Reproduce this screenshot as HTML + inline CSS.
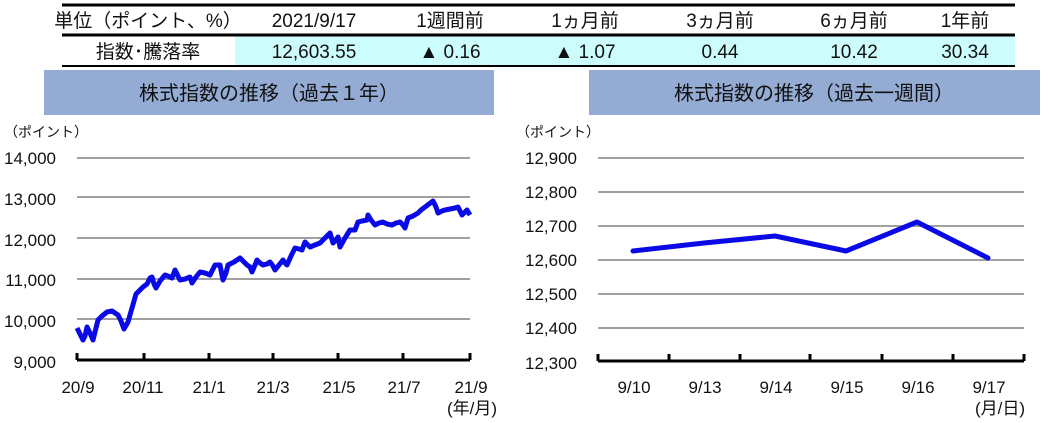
<!DOCTYPE html>
<html><head><meta charset="utf-8"><style>
body{margin:0;background:#fff;}
svg{display:block;font-family:"Liberation Sans","Noto Sans CJK JP",sans-serif;}
</style></head><body>
<svg width="1049" height="423" viewBox="0 0 1049 423" xmlns="http://www.w3.org/2000/svg">
<rect x="235" y="36" width="780" height="29" fill="#ccfcfc"/>
<line x1="62" y1="5" x2="1015" y2="5" stroke="#000" stroke-width="3"/>
<line x1="62" y1="35" x2="1015" y2="35" stroke="#000" stroke-width="3"/>
<line x1="62" y1="66" x2="1015" y2="66" stroke="#000" stroke-width="2"/>
<g font-size="19" fill="#111" text-anchor="middle">
<text x="148" y="27">単位（ポイント、%）</text>
<text x="314" y="27">2021/9/17</text>
<text x="450" y="27">1週間前</text>
<text x="585" y="27">1ヵ月前</text>
<text x="720" y="27">3ヵ月前</text>
<text x="854" y="27">6ヵ月前</text>
<text x="965" y="27">1年前</text>
<text x="148" y="58">指数･騰落率</text>
<text x="314" y="58">12,603.55</text>
<text x="450" y="58">▲ 0.16</text>
<text x="585" y="58">▲ 1.07</text>
<text x="720" y="58">0.44</text>
<text x="854" y="58">10.42</text>
<text x="965" y="58">30.34</text>
</g>
<rect x="44" y="70" width="450" height="45" fill="#94acd4"/>
<rect x="589" y="70" width="451" height="45" fill="#94acd4"/>
<g font-size="20" fill="#111" text-anchor="middle">
<text x="269" y="100">株式指数の推移（過去１年）</text>
<text x="814" y="100">株式指数の推移（過去一週間）</text>
</g>
<g font-size="14" fill="#111">
<text x="4" y="137">（ポイント）</text>
<text x="516" y="137">（ポイント）</text>
</g>
<g stroke="#a0a0a0" stroke-width="2">
<line x1="77" y1="158" x2="470" y2="158"/><line x1="77" y1="197" x2="470" y2="197"/>
<line x1="77" y1="238" x2="470" y2="238"/><line x1="77" y1="279" x2="470" y2="279"/>
<line x1="77" y1="319" x2="470" y2="319"/>
<line x1="598" y1="158" x2="1024" y2="158"/><line x1="598" y1="192" x2="1024" y2="192"/>
<line x1="598" y1="226" x2="1024" y2="226"/><line x1="598" y1="260" x2="1024" y2="260"/>
<line x1="598" y1="294" x2="1024" y2="294"/><line x1="598" y1="328" x2="1024" y2="328"/>
</g>
<g stroke="#000" stroke-width="3" fill="none">
<line x1="77" y1="360" x2="470" y2="360"/>
<path d="M77 353V360M144 353V360M209 353V360M273 353V360M338 353V360M403 353V360M470 353V360"/>
<line x1="598" y1="361" x2="1024" y2="361"/>
<path d="M598 354V361M669 354V361M740 354V361M810 354V361M882 354V361M953 354V361M1024 354V361"/>
</g>
<g font-size="17" fill="#111" text-anchor="end">
<text x="56" y="164">14,000</text><text x="56" y="205">13,000</text>
<text x="56" y="246">12,000</text><text x="56" y="286">11,000</text>
<text x="56" y="327">10,000</text><text x="56" y="368">9,000</text>
<text x="577" y="164">12,900</text><text x="577" y="198">12,800</text>
<text x="577" y="232">12,700</text><text x="577" y="266">12,600</text>
<text x="577" y="300">12,500</text><text x="577" y="334">12,400</text>
<text x="577" y="369">12,300</text>
</g>
<g font-size="17" fill="#111" text-anchor="middle">
<text x="78" y="393">20/9</text><text x="143" y="393">20/11</text><text x="209" y="393">21/1</text>
<text x="273" y="393">21/3</text><text x="339" y="393">21/5</text><text x="404" y="393">21/7</text>
<text x="471" y="393">21/9</text><text x="472" y="414">(年/月)</text>
<text x="634" y="393">9/10</text><text x="705" y="393">9/13</text><text x="776" y="393">9/14</text>
<text x="847" y="393">9/15</text><text x="918" y="393">9/16</text><text x="989" y="393">9/17</text>
<text x="1000" y="414">(月/日)</text>
</g>
<polyline fill="none" stroke="#0a0ae6" stroke-width="5" stroke-linejoin="round" points="77,328 80,334 83,340 85,336 87,327 90,333 93,340 96,328 98,320 102,316 107,312 112,311 115,313 118,315 121,321 124,329 128,322 132,308 136,294 140,290 143,287 147,284 150,278 152,277 154,284 156,288 160,281 165,275 168,276 172,278 175,270 178,276 180,280 185,279 190,277 192,283 196,277 200,272 205,273 210,275 215,265 220,265 223,280 226,273 228,265 234,262 240,258 244,262 247,265 250,267 252,272 255,265 257,260 260,263 263,265 267,264 270,262 273,266 275,270 279,265 283,260 285,263 287,265 291,256 295,248 299,249 302,250 305,242 308,245 310,247 315,245 320,243 325,238 330,233 333,243 336,240 338,237 340,247 345,238 350,230 355,230 358,222 362,221 367,220 368,215 371,220 375,225 379,223 383,222 387,224 392,225 396,223 400,222 403,225 405,228 408,218 413,216 418,213 421,210 425,207 429,204 433,201 436,207 438,213 442,211 445,210 450,209 455,208 458,207 460,211 462,215 465,212 467,210 470,215"/>
<polyline fill="none" stroke="#0a0ae6" stroke-width="5" stroke-linejoin="round" stroke-linecap="round" points="633,251 704,243 775,236 846,251 917,222 988,258"/>
</svg>
</body></html>
